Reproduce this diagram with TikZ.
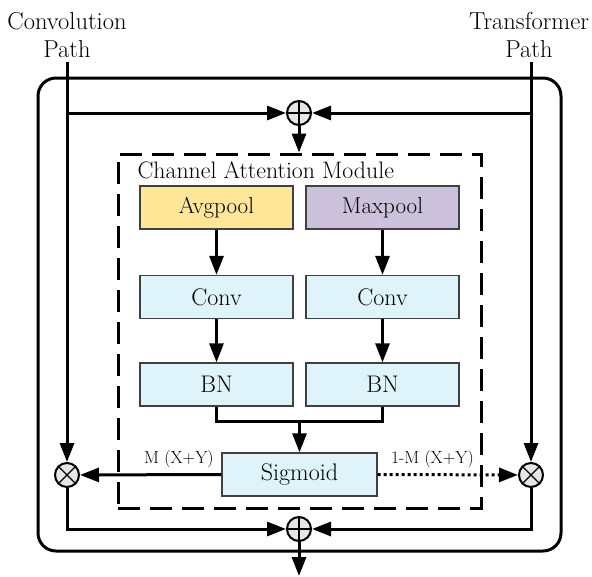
\documentclass[tikz,border=0pt]{standalone}
\usepackage{fontspec}
\usetikzlibrary{arrows.meta,positioning,calc}

\definecolor{poolyellow}{HTML}{FFE699}
\definecolor{poolpurple}{HTML}{CCC1DA}
\definecolor{layerblue}{HTML}{DEF3FA}
\definecolor{opgray}{HTML}{E6E6E6}

\tikzset{
  layer/.style={draw=black!75, line width=1.3pt, minimum width=153pt, minimum height=43pt,
    inner sep=0pt, font=\fontsize{24}{28}\selectfont},
  pool/.style={layer, font=\fontsize{23}{27}\selectfont},
  op/.style={draw, circle, line width=2pt, fill=opgray, minimum size=24pt, inner sep=0pt},
  flow/.style={line width=3pt, -{Triangle[length=19pt,width=14pt]}},
  wire/.style={line width=3pt},
  lbl/.style={font=\fontsize{17.5}{20}\selectfont}
}

\begin{document}
\begin{tikzpicture}[x=1pt,y=-1pt]
    \useasboundingbox (0,0) rectangle (592,576);

    % Inputs
    \node [align=center, font=\fontsize{24.5}{28}\selectfont] (convlbl) at (67,35) {Convolution\\Path};
    \node [align=center, font=\fontsize{24.5}{28}\selectfont] (translbl) at (529,35) {Transformer\\Path};
    \coordinate (ctop) at (67,62);
    \coordinate (ttop) at (531,62);

    % Outer frame
    \draw [wire, rounded corners=18pt] (38,78) rectangle (561,551);

    % Channel attention module
    \node [draw, line width=3pt, dash pattern=on 22pt off 10pt, minimum width=363pt, minimum height=354pt, inner sep=0pt] (cam) at (299.5,331) {};
    \node [anchor=west, font=\fontsize{23.8}{28}\selectfont] (camlbl) at (134,170) {Channel Attention Module};

    \node [pool, fill=poolyellow] (avg) at (216.5,207.5) {Avgpool};
    \node [pool, fill=poolpurple] (max) at (382.5,207.5) {Maxpool};
    \node [layer, fill=layerblue] (conva) at (216.5,297) {Conv};
    \node [layer, fill=layerblue] (convb) at (382.5,297) {Conv};
    \node [layer, fill=layerblue] (bna) at (216.5,384.5) {BN};
    \node [layer, fill=layerblue] (bnb) at (382.5,384.5) {BN};
    \node [layer, fill=layerblue, minimum width=155pt] (sig) at (299.5,474.5) {Sigmoid};
    \coordinate (merge) at (299.5,421);

    % Sum / product operators
    \node [op] (topsum) at (299,113) {};
    \node [op] (botsum) at (299,529) {};
    \node [op] (lmul) at (67,475) {};
    \node [op] (rmul) at (531,475) {};
    \foreach \n in {topsum,botsum}
        \draw [line width=1.2pt] (\n.north) -- (\n.south) (\n.west) -- (\n.east);
    \foreach \n in {lmul,rmul}
        \draw [line width=1.2pt] (\n.north west) -- (\n.south east) (\n.north east) -- (\n.south west);
    \coordinate (out) at (299,576);

    % Flows
    \draw [flow] (ctop) -- (lmul);
    \draw [flow] (ttop) -- (rmul);
    \draw [flow] (ctop |- topsum) -- (topsum);
    \draw [flow] (ttop |- topsum) -- (topsum);
    \draw [flow] (topsum) -- (topsum |- cam.north);

    \draw [flow] (avg) -- (conva);
    \draw [flow] (max) -- (convb);
    \draw [flow] (conva) -- (bna);
    \draw [flow] (convb) -- (bnb);
    \draw [wire] (bna.south) |- (merge) -| (bnb.south);
    \draw [flow] (merge) -- (sig.north);

    \draw [flow] (sig.west) -- (lmul) node [lbl, pos=0.3, above=2pt] {M (X+Y)};
    \draw [flow, dash pattern=on 3pt off 3pt] (sig.east) -- (rmul) node [lbl, pos=0.39, above=2pt] {1-M (X+Y)};

    \draw [flow] (lmul) |- (botsum);
    \draw [flow] (rmul) |- (botsum);
    \draw [flow] (botsum) -- (out);
\end{tikzpicture}
\end{document}
